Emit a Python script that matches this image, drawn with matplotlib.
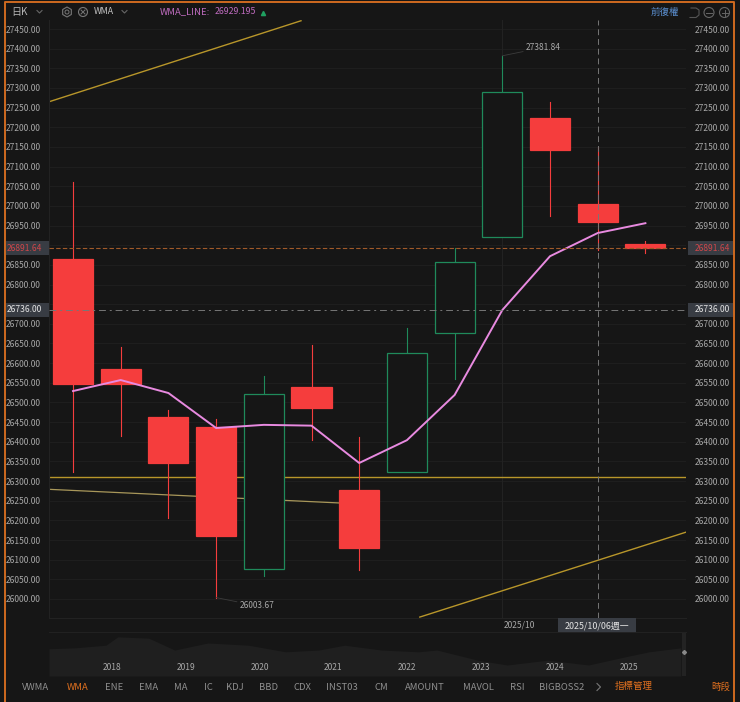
import matplotlib
matplotlib.use("Agg")
import numpy as np
import matplotlib.pyplot as plt
from matplotlib.patches import Rectangle, Circle, RegularPolygon

plt.rcParams['font.family'] = ['Noto Sans CJK TC', 'DejaVu Sans']

# candles: red ones are filled, green ones hollow
body_top = [26865, 26585, 26463, 26437, 26521, 26539, 26277, 26626, 26857, 27290, 27224, 27005, 26903]
body_bot = [26547, 26547, 26346, 26160, 26076, 26486, 26130, 26323, 26677, 26921, 27142, 26959, 26893]
high = [27061, 26641, 26481, 26458, 26567, 26646, 26412, 26689, 26893, 27381.84, 27264, 27150, 26910]
low = [26323, 26415, 26206, 26003.67, 26059, 26404, 26074, 26323, 26560, 26921, 26974, 26888, 26880]
hollow = [False, False, False, False, True, False, False, True, True, True, False, False, False]
wma = [26529, 26557, 26524, 26435, 26443, 26441, 26346, 26404, 26519, 26735, 26872, 26931, 26956]

last_price = 26891.64
cross_price = 26736.00
cross_idx = 11
month_idx = 9
support = 26310

trend_up_x = [-0.5, 4.78]
trend_up_y = [27265, 27471]
trend_down_x = [-0.5, 5.64]
trend_down_y = [26279, 26244]
trend_low_x = [7.27, 12.85]
trend_low_y = [25954, 26170]

y_ticks = np.arange(26000, 27451, 50)
hidden_ticks = [26750, 26900]  # sit under the price tags
nav_years = [2017.15, 2017.5, 2017.92, 2018.08, 2018.5, 2018.85, 2019.3, 2019.85, 2020.35, 2020.8, 2021.15,
             2021.65, 2022.15, 2022.4, 2022.95, 2023.35, 2023.9, 2024.45, 2024.93, 2025.27, 2025.7]
nav_level = [0.62, 0.64, 0.70, 0.89, 0.86, 0.59, 0.75, 0.70, 0.55, 0.59, 0.70,
             0.59, 0.55, 0.59, 0.36, 0.25, 0.36, 0.25, 0.43, 0.55, 0.64]
nav_labels = [2018, 2019, 2020, 2021, 2022, 2023, 2024, 2025]
tabs = ["VWMA", "WMA", "ENE", "EMA", "MA", "IC", "KDJ", "BBD", "CDX", "INST03", "CM", "AMOUNT", "MAVOL", "RSI", "BIGBOSS2"]
tab_x = [36, 78, 114, 149, 181, 208, 235, 268, 302, 342, 381, 425, 478, 517, 562]

BG = "#161616"
W, H = 740, 702
RED = "#f53d3d"
GREEN = "#1f8a5b"
TXT = "#a8a8a8"
TAG = "#383c43"

fig = plt.figure(figsize=(7.40, 7.02), dpi=100, facecolor=BG)

# main price panel, placed in pixels
ax = fig.add_axes([49 / W, 1 - 618 / H, 637 / W, 598 / H], facecolor=BG)
ax.set_xlim((49 - 73) / 47.7, (686 - 73) / 47.7)
ax.set_ylim(26000 + (599 - 618) / 0.3931, 26000 + (599 - 20) / 0.3931)
for s in ax.spines.values():
    s.set_visible(False)
ax.spines["left"].set_visible(True)
ax.spines["left"].set_color("#222222")
ax.spines["bottom"].set_visible(True)
ax.spines["bottom"].set_color("#222222")
ax.set_xticks([])
ax.set_yticks(y_ticks)
ax.set_yticklabels(["" if v in hidden_ticks else f"{v:.2f}" for v in y_ticks])
ax.tick_params(axis="y", length=0, labelleft=True, labelright=True, labelsize=6.1, labelcolor=TXT, pad=6)
ax.grid(axis="y", color="#1f1f1f", lw=0.7)
ax.set_axisbelow(True)
ax.axvline(month_idx, color="#222222", lw=0.8, zorder=1)

# trend lines and levels
gold = "#b8962a"
ax.plot(trend_up_x, trend_up_y, color=gold, lw=1.0, zorder=2)
ax.plot(trend_down_x, trend_down_y, color="#a8975a", lw=0.9, zorder=2)
ax.plot(trend_low_x, trend_low_y, color=gold, lw=1.0, zorder=2)
ax.axhline(support, color=gold, lw=1.0, zorder=2)

# candles
for i in range(len(body_top)):
    c = GREEN if hollow[i] else RED
    ax.plot([i, i], [body_top[i], high[i]], color=c, lw=0.8, zorder=3)
    ax.plot([i, i], [body_bot[i], low[i]], color=c, lw=0.8, zorder=3)
    ax.add_patch(Rectangle((i - 0.42, body_bot[i]), 0.84, body_top[i] - body_bot[i],
                           facecolor=BG if hollow[i] else RED, edgecolor=c, lw=0.9, zorder=3))

ax.plot(range(len(wma)), wma, color="#e88ae0", lw=1.4, zorder=4)

ax.axhline(last_price, color="#a05a2a", lw=0.8, ls=(0, (4, 2)), zorder=5)
ax.axhline(cross_price, color="#777777", lw=0.7, ls=(0, (7, 4, 2, 4)), zorder=5)
ax.axvline(cross_idx, color="#777777", lw=0.7, ls=(0, (6, 4)), zorder=5)

# high/low callouts
ax.annotate("27381.84", xy=(9, 27381.84), xytext=(17, 6), textcoords="offset points", color=TXT, fontsize=6,
            va="center", arrowprops=dict(arrowstyle="-", color="#3c3c3c", lw=0.6, shrinkA=0, shrinkB=0))
ax.annotate("26003.67", xy=(3, 26003.67), xytext=(17, -6), textcoords="offset points", color=TXT, fontsize=6,
            va="center", arrowprops=dict(arrowstyle="-", color="#3c3c3c", lw=0.6, shrinkA=0, shrinkB=0))

# price tags over the tick labels on both sides
ytrans = ax.get_yaxis_transform()
tag_h = 14 / 0.3931
for box_x, box_w, txt_x in ((-43 / 637, 43 / 637, -42 / 637), (1 + 2 / 637, 45 / 637, 1 + 9 / 637)):
    for price, col in ((last_price, "#d0474a"), (cross_price, "#e4e4e4")):
        ax.add_patch(Rectangle((box_x, price - tag_h / 2), box_w, tag_h, transform=ytrans, fc=TAG, ec="none",
                               zorder=8, clip_on=False))
        ax.text(txt_x, price, f"{price:.2f}", transform=ytrans, color=col, fontsize=6.1,
                ha="left", va="center", zorder=9, clip_on=False)

# navigator strip
nav = fig.add_axes([49 / W, 1 - 676 / H, 637 / W, 44 / H], facecolor="#181818")
nav.set_xlim(2017.15, 2025.77)
nav.set_ylim(0, 1)
nav.axis("off")
nav.fill_between(nav_years, 0, nav_level, color="#1f1f1f", lw=0)
for y in nav_labels:
    nav.text(y, 0.2, str(y), color=TXT, fontsize=6.1, ha="center", va="center")

# window chrome, in pixel coordinates
ui = fig.add_axes([0, 0, 1, 1], facecolor="none")
ui.set_xlim(0, W)
ui.set_ylim(H, 0)
ui.axis("off")
ui.plot([5, 5, 734, 734], [H, 1.5, 1.5, H], color="#cf6a20", lw=1.4)
ui.text(11, 12, "日K", color="#b5b5b5", fontsize=7.2, va="center")
ui.plot([37, 39.5, 42], [10.5, 13, 10.5], color="#666666", lw=0.8)
ui.add_patch(RegularPolygon((67, 12), 6, radius=5, fc="none", ec="#777777", lw=0.8))
ui.add_patch(Circle((67, 12), 2, fc="none", ec="#777777", lw=0.7))
ui.add_patch(Circle((83, 12), 4.5, fc="none", ec="#777777", lw=0.8))
ui.plot([81, 85], [10, 14], color="#777777", lw=0.7)
ui.plot([81, 85], [14, 10], color="#777777", lw=0.7)
ui.text(94, 12, "WMA", color="#c4c4c4", fontsize=6.3, va="center")
ui.plot([122, 124.5, 127], [10.5, 13, 10.5], color="#666666", lw=0.8)
ui.text(160, 12, "WMA_LINE:", color="#c06cc0", fontsize=6.8, va="center")
ui.text(215, 12, "26929.195", color="#c06cc0", fontsize=6.3, va="center")
ui.plot([263], [12.5], marker="^", ms=3, color="#1fa060")
ui.text(651, 12.5, "前復權", color="#5b8fd0", fontsize=6.8, va="center")
ui.add_patch(Circle((709, 12.5), 5, fc="none", ec="#666666", lw=0.8))
ui.plot([706, 712], [12.5, 12.5], color="#666666", lw=0.7)
ui.add_patch(Circle((724.5, 12.5), 5, fc="none", ec="#666666", lw=0.8))
ui.plot([721.5, 727.5], [12.5, 12.5], color="#666666", lw=0.7)
ui.plot([724.5, 724.5], [9.5, 15.5], color="#666666", lw=0.7)
ui.plot([691, 696, 699, 699, 696, 690], [8, 8, 10, 15, 17.5, 17.5], color="#555555", lw=0.8)

# date row under the panel
ui.text(519, 625, "2025/10", color=TXT, fontsize=6.1, ha="center", va="center")
ui.add_patch(Rectangle((558, 618), 78, 15, fc=TAG, ec="none"))
ui.text(597, 625.5, "2025/10/06週一", color="#e4e4e4", fontsize=6.4, ha="center", va="center")
ui.plot([49, 686], [632, 632], color="#222222", lw=0.7)
ui.add_patch(Rectangle((682, 633), 4, 43, fc="#232323", ec="none"))
ui.plot([684], [652], marker="D", ms=2, color="#888888")

# indicator tabs
for label, x in zip(tabs, tab_x):
    ui.text(x, 687, label, color="#e0701f" if label == "WMA" else "#8f8f8f", fontsize=6.8, ha="center", va="center")
ui.plot([597, 600.5, 597], [683.5, 687, 690.5], color="#777777", lw=0.8)
ui.text(634, 687, "指標管理", color="#e0701f", fontsize=6.8, ha="center", va="center")
ui.text(721, 687, "時段", color="#e0701f", fontsize=6.8, ha="center", va="center")

fig.savefig("out.png", dpi=100, facecolor=fig.get_facecolor())
